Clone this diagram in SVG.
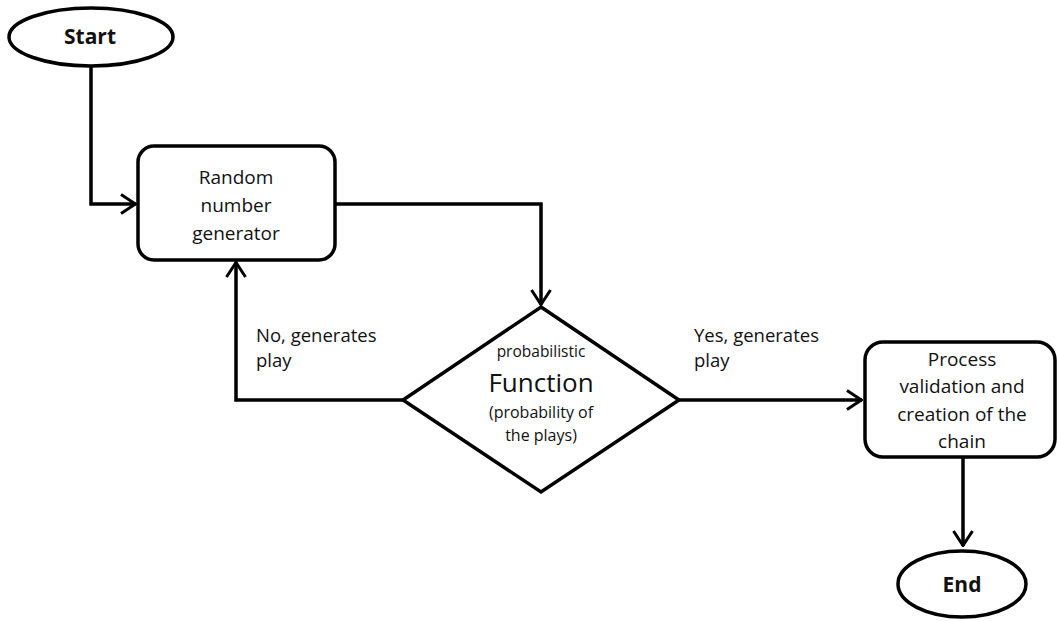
<svg xmlns="http://www.w3.org/2000/svg" width="1057" height="621" viewBox="0 0 1057 621">
<style>
.s{fill:#fff;stroke:#000;stroke-width:3.5}
.c{fill:none;stroke:#000;stroke-width:3.5}
text{font-family:"Open Sans","Liberation Sans",sans-serif;fill:#111;text-anchor:middle}
.t{font-size:19px}
.b{font-size:21px;font-weight:bold}
.l{text-anchor:start;font-size:18.5px}
</style>
<defs>
<marker id="a" viewBox="0 0 18 22" refX="17" refY="11" markerWidth="18" markerHeight="22" markerUnits="userSpaceOnUse" orient="auto">
<path d="M2,1.5 L16.5,11 L2,20.5" fill="none" stroke="#000" stroke-width="3"/>
</marker>
</defs>
<g id="connectors">
<path class="c" d="M91,66 V204 H136" marker-end="url(#a)"/>
<path class="c" d="M335,204 H541 V305" marker-end="url(#a)"/>
<path class="c" d="M403,400 H236 V262" marker-end="url(#a)"/>
<path class="c" d="M679,400 H862" marker-end="url(#a)"/>
<path class="c" d="M963,457 V546" marker-end="url(#a)"/>
<text class="l" x="256" y="342">No, generates</text>
<text class="l" x="256" y="367">play</text>
<text class="l" x="694" y="342">Yes, generates</text>
<text class="l" x="694" y="367">play</text>
</g>
<g id="start">
<ellipse class="s" cx="91" cy="37" rx="82" ry="29"/>
<text class="b" x="90" y="44">Start</text>
</g>
<g id="rng">
<rect class="s" x="138" y="146" width="197" height="114" rx="16"/>
<text class="t" x="236" y="184">Random</text>
<text class="t" x="236" y="212">number</text>
<text class="t" x="236" y="240">generator</text>
</g>
<g id="function">
<polygon class="s" points="541,307 679,400 541,492 403,400"/>
<text x="541" y="357" style="font-size:15.5px">probabilistic</text>
<text x="541" y="392" style="font-size:26px">Function</text>
<text x="541" y="418" style="font-size:16px">(probability of</text>
<text x="541" y="441" style="font-size:16px">the plays)</text>
</g>
<g id="process">
<rect class="s" x="865" y="342" width="190" height="115" rx="18"/>
<text class="t" x="962" y="366">Process</text>
<text class="t" x="962" y="393">validation and</text>
<text class="t" x="962" y="421">creation of the</text>
<text class="t" x="962" y="448">chain</text>
</g>
<g id="end">
<ellipse class="s" cx="962" cy="584" rx="64" ry="33"/>
<text class="b" x="962" y="592">End</text>
</g>
</svg>
